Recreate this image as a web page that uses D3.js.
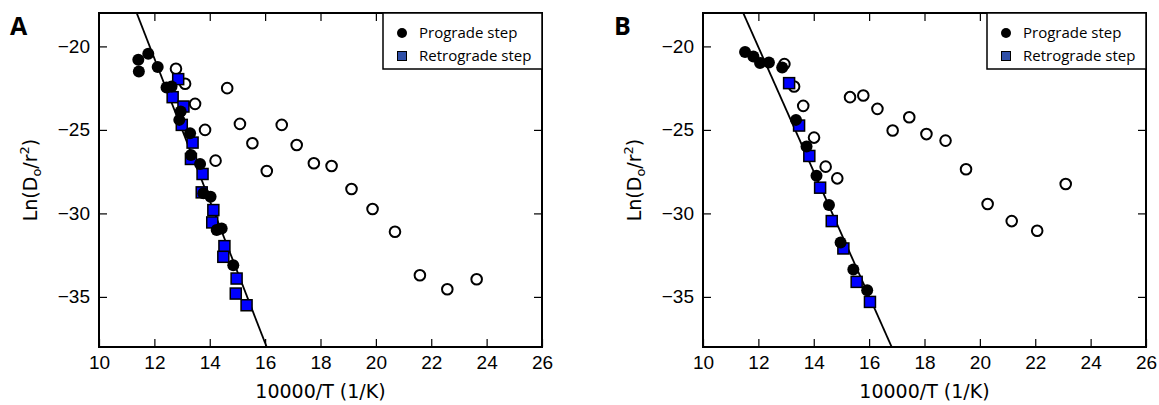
<!DOCTYPE html>
<html>
<head>
<meta charset="utf-8">
<script src="https://cdn.jsdelivr.net/npm/d3@7"></script>
<style>
  body { margin: 0; background: #fff; }
  svg { display: block; font-family: "DejaVu Sans", sans-serif; }
  .tick text { font-size: 19px; fill: #000; }
  .tick line { stroke: #000; stroke-width: 1.2; }
  .legend text { font-family: "Open Sans", sans-serif; font-size: 15px; }
</style>
</head>
<body>
<div class="chart"></div>
<script>
// panel A data: [10000/T, ln(D0/r2)]
const aPrograde = [
  [11.42, -20.8], [11.78, -20.44], [11.44, -21.5], [12.12, -21.24], [12.44, -22.46],
  [12.62, -22.4], [12.95, -23.9], [12.9, -24.4], [13.29, -25.2], [13.32, -26.5],
  [13.65, -27.04], [13.77, -28.8], [14.03, -29.0], [14.25, -31.0], [14.43, -30.9],
  [14.85, -33.1]
];
const aRetrograde = [
  [12.86, -21.96], [12.66, -23.04], [13.05, -23.6], [12.99, -24.7], [13.38, -25.76],
  [13.32, -26.74], [13.74, -27.64], [13.71, -28.74], [14.13, -29.8], [14.09, -30.54],
  [14.53, -31.96], [14.49, -32.6], [14.97, -33.9], [14.94, -34.8], [15.33, -35.5]
];
const aOpen = [
  [12.78, -21.34], [13.11, -22.24], [14.63, -22.5], [13.47, -23.44], [13.83, -25.0],
  [15.09, -24.64], [16.6, -24.7], [15.54, -25.8], [17.14, -25.9], [14.21, -26.84],
  [16.06, -27.46], [17.76, -27.0], [18.4, -27.16], [19.12, -28.54], [19.88, -29.74],
  [20.69, -31.1], [21.59, -33.7], [22.58, -34.54], [23.64, -33.94]
];
const aFit = [30.4, -4.26]; // intercept, slope

// panel B data
const bPrograde = [
  [11.52, -20.34], [11.82, -20.6], [12.06, -21.0], [12.38, -20.96], [12.86, -21.26],
  [13.36, -24.4], [13.74, -26.0], [14.1, -27.74], [14.55, -29.5], [14.97, -31.74],
  [15.43, -33.36], [15.93, -34.6]
];
const bRetrograde = [
  [13.11, -22.2], [13.47, -24.74], [13.84, -26.56], [14.23, -28.46], [14.65, -30.46],
  [15.07, -32.1], [15.55, -34.1], [16.03, -35.3]
];
const bOpen = [
  [12.94, -21.06], [13.29, -22.4], [13.62, -23.56], [14.01, -25.46], [15.31, -23.04],
  [15.79, -22.94], [16.3, -23.74], [16.85, -25.04], [17.45, -24.24], [18.07, -25.25],
  [18.76, -25.64], [19.5, -27.36], [20.28, -29.44], [21.15, -30.46], [22.07, -31.04],
  [23.1, -28.24], [14.43, -27.2], [14.85, -27.9]
];
const bFit = [24.72, -3.73];

const xDomain = [10, 26];
const yDomain = [-38, -18];
const xTicks = [10, 12, 14, 16, 18, 20, 22, 24, 26];
const yTicks = [-20, -25, -30, -35];
const legendLabels = ['Prograde step', 'Retrograde step'];

const W = 1159, H = 405;
const plotW = 443, plotH = 334, plotTop = 13;

const svg = d3.select('.chart').append('svg')
  .attr('width', W)
  .attr('height', H);

function panel(left, letter, prograde, retrograde, open, fit) {
  const g = svg.append('g').attr('transform', `translate(${left},${plotTop})`);
  const x = d3.scaleLinear().domain(xDomain).range([0, plotW]);
  const y = d3.scaleLinear().domain(yDomain).range([plotH, 0]);

  // axes with inward ticks on all four sides
  const fmt = d3.format('d');
  g.append('g').attr('transform', `translate(0,${plotH})`)
    .call(d3.axisBottom(x).tickValues(xTicks).tickFormat(fmt).tickSizeInner(-8).tickSizeOuter(0).tickPadding(9));
  g.append('g')
    .call(d3.axisLeft(y).tickValues(yTicks).tickFormat(fmt).tickSizeInner(-8).tickSizeOuter(0).tickPadding(9));
  g.append('g')
    .call(d3.axisTop(x).tickValues(xTicks.slice(1, -1)).tickFormat('').tickSizeInner(-8).tickSizeOuter(0));
  g.append('g').attr('transform', `translate(${plotW},0)`)
    .call(d3.axisRight(y).tickValues(yTicks).tickFormat('').tickSizeInner(-8).tickSizeOuter(0));
  g.selectAll('.domain').remove();
  g.selectAll('.tick text').attr('fill', '#000');

  // clip for the fit line
  const clipId = 'clip' + letter;
  g.append('clipPath').attr('id', clipId)
    .append('rect').attr('width', plotW).attr('height', plotH);

  const fitLine = d3.line().x(d => x(d)).y(d => y(fit[0] + fit[1] * d));
  g.append('path')
    .datum([10, 17])
    .attr('clip-path', `url(#${clipId})`)
    .attr('d', fitLine)
    .attr('fill', 'none')
    .attr('stroke', '#000')
    .attr('stroke-width', 1.8);

  g.append('g').selectAll('circle')
    .data(open)
    .join('circle')
      .attr('cx', d => x(d[0]))
      .attr('cy', d => y(d[1]))
      .attr('r', 5.3)
      .attr('fill', '#fff')
      .attr('stroke', '#000')
      .attr('stroke-width', 2);

  g.append('g').selectAll('rect')
    .data(retrograde)
    .join('rect')
      .attr('x', d => x(d[0]) - 5.5)
      .attr('y', d => y(d[1]) - 5.5)
      .attr('width', 11)
      .attr('height', 11)
      .attr('fill', '#0000ff')
      .attr('stroke', '#000')
      .attr('stroke-width', 1.5);

  g.append('g').selectAll('circle')
    .data(prograde)
    .join('circle')
      .attr('cx', d => x(d[0]))
      .attr('cy', d => y(d[1]))
      .attr('r', 6)
      .attr('fill', '#000');

  // frame
  g.append('rect')
    .attr('width', plotW)
    .attr('height', plotH)
    .attr('fill', 'none')
    .attr('stroke', '#000')
    .attr('stroke-width', 2);

  // legend
  const lg = g.append('g').attr('class', 'legend')
    .attr('transform', `translate(${plotW - 159},0)`);
  lg.append('rect')
    .attr('width', 159).attr('height', 56)
    .attr('fill', '#fff').attr('stroke', '#000').attr('stroke-width', 1.5);
  lg.append('circle').attr('cx', 19).attr('cy', 20).attr('r', 5).attr('fill', '#000');
  lg.append('rect').attr('x', 14.5).attr('y', 38.5).attr('width', 9).attr('height', 9)
    .attr('fill', '#3050a8').attr('stroke', '#000').attr('stroke-width', 1);
  lg.selectAll('text')
    .data(legendLabels)
    .join('text')
      .attr('x', 36)
      .attr('y', (d, i) => 25 + i * 23)
      .text(d => d);

  // axis titles
  g.append('text')
    .attr('x', plotW / 2).attr('y', 385)
    .attr('text-anchor', 'middle')
    .attr('font-size', 19)
    .text('10000/T (1/K)');

  const yl = g.append('text')
    .attr('transform', `translate(-62,${plotH / 2}) rotate(-90)`)
    .attr('text-anchor', 'middle')
    .attr('font-size', 19);
  yl.append('tspan').text('Ln(D');
  yl.append('tspan').attr('font-size', 13).attr('dy', 4).text('o');
  yl.append('tspan').attr('dy', -4).text('/r');
  yl.append('tspan').attr('font-size', 13).attr('dy', -8).text('2');
  yl.append('tspan').attr('dy', 8).text(')');

  svg.append('text')
    .attr('x', left - 89).attr('y', 35)
    .attr('font-family', '"Open Sans", sans-serif')
    .attr('font-weight', 'bold')
    .attr('font-size', 25)
    .text(letter);
}

panel(99, 'A', aPrograde, aRetrograde, aOpen, aFit);
panel(703, 'B', bPrograde, bRetrograde, bOpen, bFit);
</script>
</body>
</html>
